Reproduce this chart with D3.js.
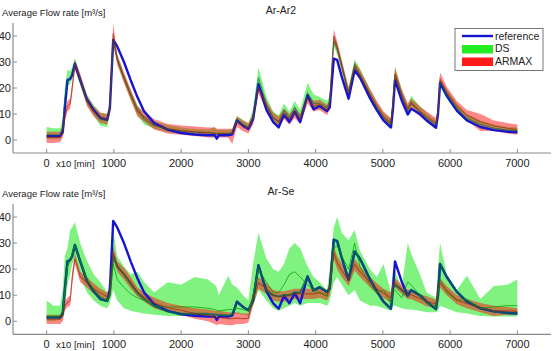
<!DOCTYPE html>
<html>
<head>
<meta charset="utf-8">
<script src="https://cdn.jsdelivr.net/npm/d3@7"></script>
<style>
  html, body { margin: 0; padding: 0; background: #fff; }
  svg { display: block; font-family: "Liberation Sans", Arial, Helvetica, sans-serif; }
</style>
</head>
<body>
<div id="chart"></div>
<script>
// time axis, in units of 10 min
const time = [0, 100, 200, 240, 270, 310, 350, 380, 420, 500,
  600, 700, 800, 900, 940, 990, 1050, 1150, 1250, 1350,
  1450, 1600, 1800, 2000, 2200, 2400, 2500, 2530, 2560, 2700,
  2760, 2830, 2920, 3000, 3070, 3150, 3270, 3370, 3450, 3530,
  3610, 3690, 3770, 3880, 3970, 4060, 4170, 4210, 4270, 4320,
  4390, 4490, 4580, 4660, 4810, 4910, 5010, 5120, 5150, 5180,
  5280, 5370, 5420, 5550, 5650, 5790, 5820, 5850, 5950, 6100,
  6250, 6450, 6650, 6850, 7000];

// measured flow (same in both panels)
const reference = [1.5, 1.5, 1.5, 3, 12, 23, 23.5, 25, 29.3, 23,
  15.5, 11.5, 8.5, 7.8, 12, 38.5, 36, 30, 23, 16.5,
  11, 6.5, 4, 2.7, 2.1, 1.8, 1.8, 0.5, 1.8, 1.8,
  2.2, 7.5, 5.5, 4.2, 8, 21.5, 11.5, 6.9, 4.8, 9.8,
  6.9, 10.8, 6.9, 17.2, 11.8, 13.1, 11.2, 12.5, 31.3, 30.8,
  24.2, 15.9, 26.8, 24, 16, 11.5, 7.5, 4.8, 12, 23,
  15.2, 9.8, 12, 10, 7.5, 4.7, 10, 22, 17, 11.3,
  7.5, 5, 3.8, 3.2, 3];

// ---- Ar-Ar2 ----
const ar2DsLo = [0.3, 0.3, 0.3, 3, 12, 21, 21.5, 23.5, 27.5, 21,
  13.5, 9.5, 5.5, 5, 10, 37, 29.5, 22, 15.5, 9.5,
  6, 4.3, 3, 2.4, 2, 1.8, 1.6, 1.4, 1.6, 1.6,
  1.8, 6.3, 4.8, 3.8, 7, 21, 12, 7, 5.5, 9.5,
  7, 10.5, 7, 16, 12, 12, 10.5, 13, 36, 33,
  26.5, 16.5, 27, 23.5, 16, 11, 7, 5, 12, 23.5,
  15.5, 10, 13, 9.5, 7, 4.8, 9, 20.5, 16, 10.5,
  7, 4.8, 3.8, 3, 2.8];
const ar2DsHi = [5, 4.5, 4.5, 8, 20, 27, 26.5, 28, 31.5, 25,
  17.5, 13.5, 10.5, 10, 15, 40, 33, 25.5, 19, 13.5,
  9.5, 7.2, 5.8, 4.8, 4.2, 4, 5, 3.8, 3.8, 3.8,
  4.2, 9.2, 7.8, 6.3, 12, 28, 16.5, 11, 9.5, 14,
  11, 15, 11.5, 22, 17.5, 16.5, 15, 17, 39.5, 37,
  30.5, 20.5, 31, 27.5, 19.5, 14.5, 10.5, 8, 16, 28,
  19.5, 13.5, 17, 13, 10.5, 7.5, 12, 23.5, 19.5, 14,
  10, 7.5, 6, 5, 4.8];
const ar2DsMid = [2, 2, 2, 5, 15, 23, 23.5, 25.5, 29.5, 23,
  15, 11, 8, 7.5, 12, 38.5, 31, 24, 17.5, 12,
  8, 5.5, 4.2, 3.4, 3, 2.8, 2.6, 2.2, 2.5, 2.5,
  2.8, 7.8, 6, 5, 9, 24, 13.5, 8.5, 7, 11.5,
  8.5, 12.5, 8.5, 18, 14, 14, 12.5, 15, 38, 35,
  28, 18, 29, 25, 17.5, 12.5, 8.5, 6, 14, 25,
  17, 11.5, 14.5, 11, 8.5, 5.8, 10, 22, 17.5, 12,
  8.3, 6, 4.6, 3.8, 3.5];
const ar2ArLo = [-1.2, -1.2, -0.8, 1, 7, 11, 12, 18, 27, 21.5,
  13, 9, 6.5, 6, 10, 37, 29, 22, 15.5, 9,
  7, 4, 2.5, 2, 1.5, 1, 1, 0.5, 1, 1,
  -1.5, 5, 3.5, 2.5, 6, 18, 11, 6.5, 5, 8,
  6, 8.5, 6, 14, 11, 11.5, 9.5, 12, 37.5, 34,
  26.5, 16, 26, 23, 15.5, 11, 7, 4.5, 12, 23,
  15.5, 10, 12, 9, 7, 4.5, 9, 21, 16.5, 11,
  7.5, 3.5, 3.5, 2.5, 2];
const ar2ArHi = [3.2, 3.2, 3.2, 5, 11, 15, 16, 22, 31, 25.5,
  17, 13, 10.5, 10, 14, 45, 33, 26, 19.5, 13,
  11, 8, 6.2, 5.6, 5.2, 4.8, 4.8, 4.3, 4.3, 4.3,
  4.3, 9, 7.5, 6.5, 10, 22, 15, 10.5, 9, 12,
  10, 12.5, 10, 18, 15, 15.5, 13.5, 16, 42.5, 38,
  30.5, 20, 30, 27, 19.5, 15, 11, 8.5, 16, 28,
  19.5, 14, 16, 13, 11, 8.5, 13, 26, 20.5, 15,
  11.5, 10, 7.5, 6.5, 6];
const ar2ArMid = [1, 1, 1, 2.5, 9, 13, 14, 20, 29, 23.5,
  15, 11, 8.5, 8, 12, 41, 31, 24, 17.5, 11,
  9, 5.8, 4.3, 3.6, 3.2, 2.8, 2.5, 2.3, 2.5, 2.5,
  2.5, 7, 5.5, 4.5, 8, 20, 13, 8.5, 7, 10,
  8, 10.5, 8, 16, 13, 13.5, 11.5, 14, 40, 36,
  28.5, 18, 28, 25, 17.5, 13, 9, 6.5, 14, 25.5,
  17.5, 12, 14, 11, 9, 6.5, 11, 23.5, 18.5, 13,
  9.5, 7, 5.5, 4.5, 4];

// ---- Ar-Se ----
const seDsLo = [0, 0, 0.5, 2, 6, 14, 18, 22, 24, 17,
  11, 8, 6, 5, 7, 12, 8, 5, 4, 3.5,
  3, 2.5, 2, 2, 2, 2, 2, 1.5, 1.5, 2,
  2.5, 3, 2.5, 2, 6, 12, 8, 5, 4, 5,
  6, 7, 6, 7, 7, 7, 6, 8, 15, 17,
  14, 10, 12, 8, 6, 6, 5, 4, 6, 6,
  5, 4.5, 4.5, 4, 3.5, 3.5, 4, 6, 5, 3.5,
  3, 2, 1.8, 1.8, 1.8];
const seDsHi = [8, 6, 6, 12, 25, 28, 35, 36, 38, 30,
  23, 18, 15, 11, 15, 35, 25, 21, 18, 19,
  15, 11, 15, 14, 17, 16, 14, 13, 10, 17.5,
  14, 13, 10, 8, 22, 34, 24, 20, 19, 22,
  28, 30, 28, 21, 17, 15, 12, 20, 36, 40,
  34, 31, 35, 27, 20, 17, 22, 11, 20, 19,
  13, 30, 26, 18, 11, 9, 20, 30, 18, 12,
  17.5, 8.5, 13.5, 14, 16];
const seDsMid = [2, 2, 2, 4, 12, 21, 23, 26, 29, 23,
  16, 12, 9.5, 8, 10, 22, 16, 13, 10.5, 9,
  8, 6, 5.5, 5.5, 5.5, 5, 4.5, 4.2, 4, 4.5,
  4.5, 5, 4.5, 4, 10, 20, 15, 11, 11, 14,
  18, 19, 17, 14, 12, 11, 9.5, 13, 28, 29,
  25, 20, 30, 21, 14, 11, 12, 7, 12, 12,
  9, 15, 14, 10, 7, 5.5, 11, 16, 11, 8,
  8.5, 5, 5.5, 6, 6];
const seDsTrack = [1.5, 1.5, 1.5, 3, 12, 23, 23.5, 25, 29.3, 23,
  15.5, 11.5, 8.5, 7.8, 10, 25, 21, 18, 14.5, 11,
  8.5, 5.8, 3.8, 2.8, 2.8, 2.8, 2.6, 2.5, 2.5, 2.2,
  2.4, 7.5, 5.5, 4.2, 8, 21.5, 11.5, 10, 9.5, 10,
  10, 11, 11, 17.2, 11.8, 13.1, 11.2, 12.5, 31.3, 30.8,
  24.2, 15.9, 26.8, 24, 16, 11.5, 7.5, 4.8, 13, 14,
  12, 9.8, 12, 10, 7.5, 4.7, 10, 22, 17, 11.3,
  7.5, 5, 3.8, 3.2, 3];
const seArLo = [-1, -1, -1, 0, 4, 5.5, 6, 14, 22, 15,
  13, 10.5, 9, 8, 9, 24, 19, 16, 12.5, 9.5,
  7.5, 5, 3.5, 2.5, 1, 0, -1, -1.5, -1, -1.5,
  -1.5, -1, -1, -0.5, 6, 12.5, 10.5, 8, 7.5, 7.5,
  8, 8.5, 8.5, 8.5, 8.5, 9, 8, 10, 24, 20,
  17, 13.5, 19.5, 17, 13, 10.5, 9, 7, 13, 13,
  10.5, 8.5, 8.5, 7, 5.8, 5, 12, 13, 10, 6.5,
  5, 3.5, 2, 2.5, 2.5];
const seArHi = [2.5, 2.5, 2.5, 4, 8, 9, 10, 19, 26, 19,
  17, 14.5, 12.5, 11, 13, 29, 23, 20.5, 17, 13,
  11, 9, 7, 6, 5, 4.5, 4, 4, 4, 3.5,
  3.5, 3.5, 3, 3, 11, 17, 14.5, 12, 11.5, 11.5,
  12, 12.5, 12.5, 12.5, 12.5, 13, 12, 15, 29, 25,
  22, 18, 24, 21, 17, 14.5, 12.5, 11, 16.5, 16.5,
  14, 12, 12, 10.5, 9.6, 8.3, 16, 16.5, 13.5, 10,
  8.5, 7, 6, 5.5, 5];
const seArMid = [0.8, 0.8, 0.8, 2, 6, 7.2, 8, 16.5, 24, 17,
  15, 12.5, 10.8, 9.5, 11, 26.5, 21, 18.2, 14.8, 11.2,
  9.2, 7, 5.2, 4.2, 3, 2.2, 1.5, 1.2, 1.5, 1,
  1, 1.2, 1, 1.2, 8.5, 14.8, 12.5, 10, 9.5, 9.5,
  10, 10.5, 10.5, 10.5, 10.5, 11, 10, 12.5, 26.5, 22.5,
  19.5, 15.8, 21.8, 19, 15, 12.5, 10.8, 9, 14.8, 14.8,
  12.2, 10.2, 10.2, 8.8, 7.7, 6.6, 14, 14.8, 11.8, 8.2,
  6.8, 5.2, 4, 4, 3.8];

const xTicks = [0, 1000, 2000, 3000, 4000, 5000, 6000, 7000];
const yTicks = [0, 10, 20, 30, 40];
const legendLabels = ["reference", "DS", "ARMAX"];

const width = 554, height = 351;
const svg = d3.select("#chart").append("svg")
  .attr("width", width)
  .attr("height", height);

const x = d3.scaleLinear().domain([-500, 7500]).range([13, 551]);

const C = {
  axis: "#8c8c8c",
  text: "#222",
  blue: "#1414d2",
  green: "#00e600",
  red: "#ff1010",
  teal: "#00644e",
  darkRed: "#9a2a10",
  midGreen: "#00a000"
};

function drawPanel(p) {
  const y = d3.scaleLinear().domain([-5, 45]).range([p.bottom, p.top]);
  const g = svg.append("g");

  const rows = time.map((t, i) => ({ t, i }));
  const area = (lo, hi) => d3.area()
    .x(d => x(d.t)).y0(d => y(lo[d.i])).y1(d => y(hi[d.i]));
  const line = vals => d3.line().x(d => x(d.t)).y(d => y(vals[d.i]));

  // axes (MATLAB style: left + bottom box lines, inward ticks)
  g.append("line").attr("x1", x.range()[0]).attr("x2", x.range()[1])
    .attr("y1", p.bottom).attr("y2", p.bottom)
    .attr("stroke", C.axis).attr("stroke-width", 1.2);
  g.append("line").attr("x1", x.range()[0]).attr("x2", x.range()[0])
    .attr("y1", p.top).attr("y2", p.bottom)
    .attr("stroke", C.axis).attr("stroke-width", 1.2);

  g.selectAll(".xt").data(xTicks).enter().append("line")
    .attr("x1", d => x(d)).attr("x2", d => x(d))
    .attr("y1", p.bottom).attr("y2", p.bottom - 4)
    .attr("stroke", C.axis);
  g.selectAll(".yt").data(yTicks).enter().append("line")
    .attr("x1", x.range()[0]).attr("x2", x.range()[0] + 4)
    .attr("y1", d => y(d)).attr("y2", d => y(d))
    .attr("stroke", C.axis);

  g.selectAll(".xl").data(xTicks).enter().append("text")
    .attr("x", d => x(d)).attr("y", p.bottom + 14)
    .attr("text-anchor", "middle")
    .attr("fill", C.text).style("font-size", "11px")
    .text(d => d);
  g.selectAll(".yl").data(yTicks).enter().append("text")
    .attr("x", 11).attr("y", d => y(d) + 4)
    .attr("text-anchor", "end")
    .attr("fill", C.text).style("font-size", "11px")
    .text(d => d);

  g.append("text").attr("x", 56).attr("y", p.bottom + 14)
    .attr("fill", C.text).style("font-size", "9.5px")
    .text("x10 [min]");

  g.append("text").attr("x", 2).attr("y", p.top - 7)
    .attr("fill", C.text).style("font-size", "9.5px")
    .text("Average Flow rate [m³/s]");
  g.append("text").attr("x", p.titleX).attr("y", p.top - 9)
    .attr("text-anchor", "middle")
    .attr("fill", C.text).style("font-size", "10.5px")
    .text(p.title);

  // uncertainty bands
  g.append("path").datum(rows).attr("d", area(p.dsLo, p.dsHi))
    .attr("fill", C.green).attr("opacity", 0.5);
  g.append("path").datum(rows).attr("d", area(p.arLo, p.arHi))
    .attr("fill", C.red).attr("opacity", 0.5);

  // reference
  g.append("path").datum(rows).attr("d", line(reference))
    .attr("fill", "none").attr("stroke", C.blue)
    .attr("stroke-width", 2.4).attr("stroke-linejoin", "round");

  if (p.dsTrack) {
    g.append("path").datum(rows).attr("d", line(p.dsTrack))
      .attr("fill", "none").attr("stroke", C.teal)
      .attr("stroke-width", 2.2).attr("opacity", 0.75)
      .attr("stroke-linejoin", "round");
  }
  g.append("path").datum(rows).attr("d", line(p.dsMid))
    .attr("fill", "none").attr("stroke", p.dsTrack ? C.midGreen : C.teal)
    .attr("stroke-width", p.dsTrack ? 0.8 : 1.3)
    .attr("opacity", p.dsTrack ? 0.9 : 0.55);
  g.append("path").datum(rows).attr("d", line(p.arMid))
    .attr("fill", "none").attr("stroke", C.darkRed)
    .attr("stroke-width", 1.1).attr("opacity", 0.65);
}

drawPanel({
  title: "Ar-Ar2", titleX: 281, top: 23, bottom: 153,
  dsLo: ar2DsLo, dsHi: ar2DsHi, dsMid: ar2DsMid,
  arLo: ar2ArLo, arHi: ar2ArHi, arMid: ar2ArMid
});

drawPanel({
  title: "Ar-Se", titleX: 281, top: 204, bottom: 334.3,
  dsLo: seDsLo, dsHi: seDsHi, dsMid: seDsMid, dsTrack: seDsTrack,
  arLo: seArLo, arHi: seArHi, arMid: seArMid
});

// legend (top panel)
const lg = svg.append("g");
lg.append("rect").attr("x", 455).attr("y", 28.5).attr("width", 88).attr("height", 42)
  .attr("fill", "#fff").attr("stroke", "#555").attr("stroke-width", 0.8);
lg.append("line").attr("x1", 462).attr("x2", 493).attr("y1", 36).attr("y2", 36)
  .attr("stroke", C.blue).attr("stroke-width", 2.4);
lg.append("rect").attr("x", 462).attr("y", 45).attr("width", 31).attr("height", 8.5)
  .attr("fill", "#22ee22");
lg.append("rect").attr("x", 462).attr("y", 57.5).attr("width", 31).attr("height", 8.5)
  .attr("fill", "#ff1a1a");
lg.selectAll(".lt").data(legendLabels).enter().append("text")
  .attr("x", 495).attr("y", (d, i) => 39.5 + i * 12.8)
  .attr("fill", C.text).style("font-size", "10.5px")
  .text(d => d);
</script>
</body>
</html>
